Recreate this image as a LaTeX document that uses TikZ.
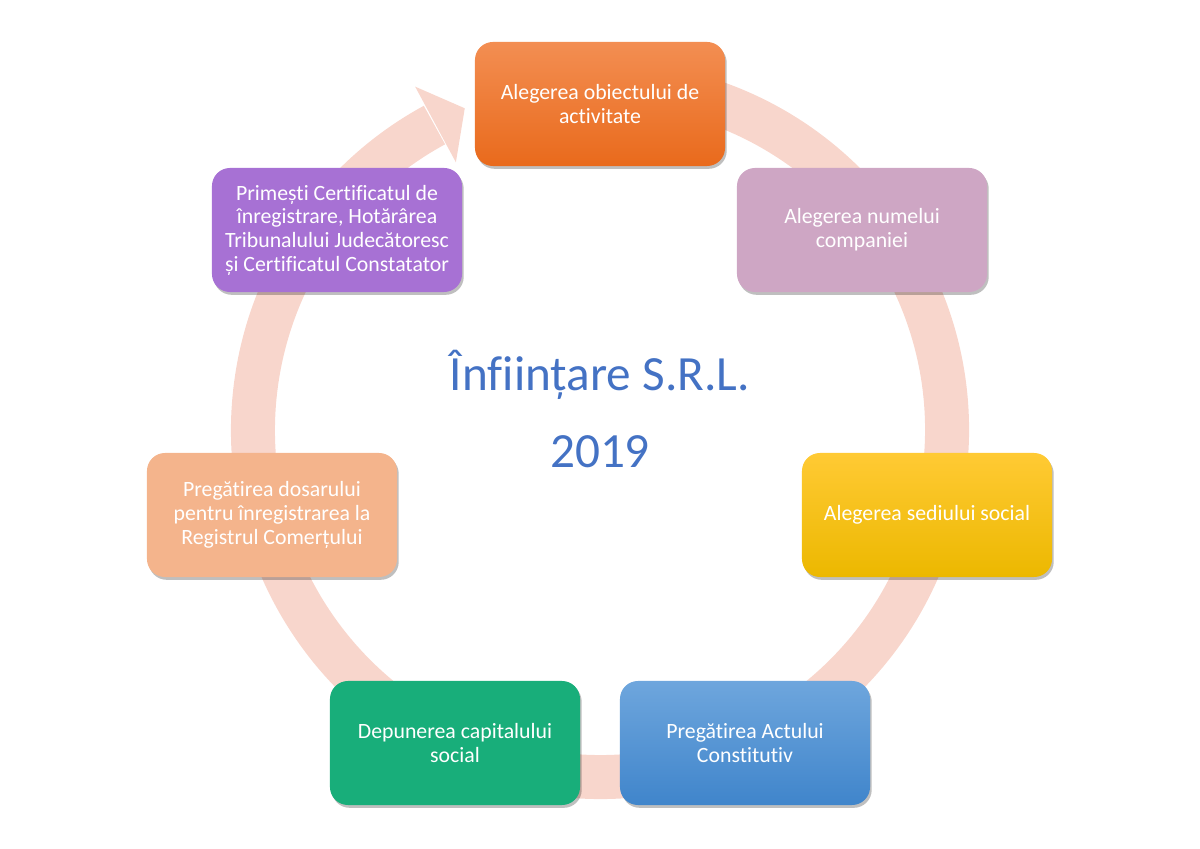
\documentclass[tikz,border=0pt]{standalone}
\usepackage{fontspec}
\setmainfont{Carlito}[Ligatures=NoCommon]
\usetikzlibrary{shadows}
\definecolor{ringpink}{RGB}{248,214,204}
\definecolor{titleblue}{RGB}{68,114,196}
\definecolor{orangetop}{RGB}{243,142,82}
\definecolor{orangebot}{RGB}{233,106,28}
\definecolor{mauve}{RGB}{206,166,196}
\definecolor{yellowtop}{RGB}{255,202,52}
\definecolor{yellowbot}{RGB}{236,184,0}
\definecolor{bluetop}{RGB}{110,166,221}
\definecolor{bluebot}{RGB}{64,133,203}
\definecolor{greenbox}{RGB}{24,174,122}
\definecolor{peach}{RGB}{244,180,140}
\definecolor{purplebox}{RGB}{167,113,212}
\begin{document}
\begin{tikzpicture}[x=0.025cm, y=0.025cm,
    stage/.style={rounded corners=0.45cm, minimum width=6.25cm, minimum height=3.1cm,
        inner sep=0pt, align=center, text=white, font=\fontsize{15.5}{16.8}\selectfont,
        drop shadow={shadow xshift=1.2pt, shadow yshift=-2pt, opacity=0.25, fill=black}},
    heading/.style={anchor=base, text=titleblue, font=\fontsize{35}{40}\selectfont}]
    \useasboundingbox (0,0) rectangle (1200,848);

    % Draw the ring with its arrow head
    \begin{scope}[shift={(600,418)}]
        \draw[ringpink, line width=1.1cm] (80:347) arc[start angle=80, end angle=-241.5, radius=347];
        \fill[ringpink] (118.3:390) -- (112.8:349) -- (118.3:304) -- cycle;
    \end{scope}

    % Place the steps round the ring
    \node[stage, top color=orangetop, bottom color=orangebot] (obiect) at (600,744) {Alegerea obiectului de\\activitate};
    \node[stage, fill=mauve] (nume) at (862,618) {Alegerea numelui\\companiei};
    \node[stage, top color=yellowtop, bottom color=yellowbot] (sediu) at (927,333) {Alegerea sediului social};
    \node[stage, top color=bluetop, bottom color=bluebot] (act) at (745,105) {Pregătirea Actului\\Constitutiv};
    \node[stage, fill=greenbox] (capital) at (455,105) {Depunerea capitalului\\social};
    \node[stage, fill=peach] (dosar) at (272,333) {Pregătirea dosarului\\pentru înregistrarea la\\Registrul Comerțului};
    \node[stage, fill=purplebox] (certificat) at (337,618) {Primești Certificatul de\\înregistrare, Hotărârea\\Tribunalului Judecătoresc\\și Certificatul Constatator};

    % Place the title in the middle
    \node[heading] (titlu) at (600,457) {Înființare S.R.L.};
    \node[heading] (an) at (600,380) {2019};
\end{tikzpicture}
\end{document}
